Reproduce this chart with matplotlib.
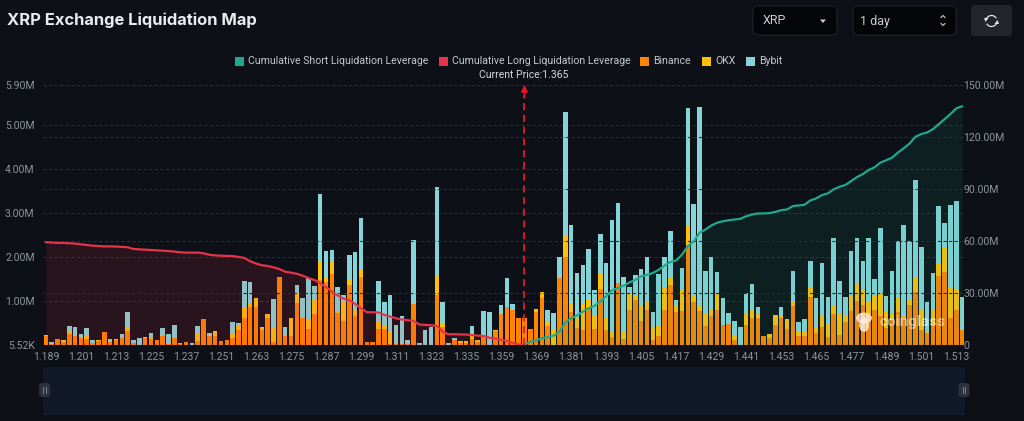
import numpy as np
import matplotlib
matplotlib.use("Agg")
import matplotlib.pyplot as plt
from matplotlib.patches import FancyBboxPatch, Rectangle, Ellipse, Arc

plt.rcParams['font.family'] = ['Roboto', 'DejaVu Sans']

# tick labels along the price axis, one every 6 bars
price_ticks = ["1.189", "1.201", "1.213", "1.225", "1.237", "1.251", "1.263", "1.275", "1.287",
               "1.299", "1.311", "1.323", "1.335", "1.359", "1.369", "1.381", "1.393", "1.405",
               "1.417", "1.429", "1.441", "1.453", "1.465", "1.477", "1.489", "1.501", "1.513"]

# liquidation per price bin, millions
binance = [.21, .03, .15, .08, .25, .20, .16, .15, .04, .10, .29, .08, .11, .16, .33, .04, 0, .16, .14, .11,
           .20, .02, .17, .02, .08, .01, .09, .59, .20, .20, .10, .11, .17, .34, .62, .87, .86, .34, .62, .08,
           1.55, .20, .21, .96, .61, .36, .71, 1.48, 1.43, 1.62, .74, .55, 1.37, .66, 1.55, .08, .08, .36, .36, .03,
           .03, .03, .03, .93, 0, 0, 0, 1.15, .42, 0, .11, .04, .05, .15, .08, .22, 0, .32, .70, .87,
           .81, .61, .61, .36, .76, 1.06, .43, 0, 1.52, 1.99, .75, .38, .34, .84, .36, 1.28, .34, .19, 1.40, .15,
           .81, 1.03, .54, .81, .11, .20, .81, 1.37, .75, .78, 2.28, .99, .78, .43, .66, .81, .46, .49, .13, 0,
           .46, .61, .61, .20, .17, .46, .61, .36, .90, .20, .20, 1.10, .28, .42, .19, .70, .23, .52, .78, 1.00,
           .91, .70, .80, .66, .40, .57, .75, .61, .91, 1.21, .34, .27, .46, 1.56, 1.65, .61, .81, .34]
okx = [.03, 0, 0, .05, .08, .02, .02, .06, .02, .02, 0, .01, .04, .02, .07, 0, 0, .02, .02, .02,
       0, 0, 0, .03, 0, 0, .16, 0, .02, .13, 0, 0, .08, .10, .22, .08, .20, .08, .08, .33,
       0, .02, .41, .20, .02, .21, .32, .42, .11, .27, .03, .43, .12, .14, .17, 0, 0, .17, .09, .30,
       0, 0, 0, 0, 0, 0, 0, .41, .06, 0, .03, .05, .04, .05, .03, .02, 0, .02, .03, 0,
       0, 0, 0, 0, .06, .15, .10, .34, 0, .50, .18, .23, .59, .20, .32, .33, .28, .11, 0, .17,
       .35, .10, .35, .18, .28, .25, .50, .17, .16, .47, .43, .14, .13, .30, .14, .38, 0, 0, .10, 0,
       .25, .19, .10, 0, .08, .23, .05, .24, .09, .11, .09, .21, .12, .24, .29, .20, .48, .14, .36, .38,
       .36, .30, .33, .50, .36, .14, .35, .08, .14, .33, .46, .05, .33, .30, .58, .72, .46, .02]
bybit = [0, .04, 0, 0, .11, .20, .08, .19, .06, 0, 0, .05, 0, .08, .35, .09, .17, 0, .12, 0,
         .18, .23, .30, 0, 0, .04, .18, 0, .06, 0, 0, 0, .28, .07, .62, .49, 0, 0, 0, .64,
         0, .20, 0, .20, .44, .95, .32, 1.53, .60, .27, .56, .16, .56, 1.31, 1.17, 0, 0, .92, .52, .81,
         .42, .64, .08, 1.46, .05, .35, .42, 2.03, .50, .04, .02, 0, 0, .24, .02, .53, .75, 0, .18, .66,
         .12, 0, 0, 0, 0, 0, .28, .38, .48, 2.79, 1.80, 1.03, .88, 1.15, .58, .91, 1.25, 2.55, 1.83, 1.22,
         .15, .46, .84, 1.02, .36, 1.16, .70, 1.05, .11, .51, 2.66, 2.07, 4.49, .96, 1.20, .46, .62, .23, .32, .42,
         .47, .58, .15, 0, 0, 0, .21, 0, .70, .21, .30, .61, .67, 1.21, .62, 1.53, .74, .43, 1.00, 1.05,
         .65, 1.42, .37, 1.50, .36, .97, 1.27, 2.03, 1.31, 2.20, 1.42, .65, .84, 1.29, .54, 1.84, 2.00, .74]

# cumulative leverage, millions (long runs up to the current price, short starts there)
long_cum = [59.3, 59.1, 58.9, 58.9, 58.7, 58.5, 58.1, 57.7, 57.3, 57.1, 56.9, 56.9, 56.8, 56.6, 56.4, 55.4, 55.2,
            55.0, 54.8, 54.6, 54.4, 54.2, 53.9, 53.5, 53.3, 53.3, 53.3, 52.9, 52.1, 51.7, 51.5, 51.4, 51.3, 50.8,
            50.2, 48.3, 47.0, 46.0, 45.6, 44.8, 43.8, 42.3, 41.7, 41.1, 40.0, 38.6, 37.5, 35.7, 33.4, 30.9, 28.6,
            26.8, 25.9, 23.7, 21.2, 18.9, 18.9, 18.7, 17.4, 16.4, 15.4, 14.7, 14.3, 13.9, 11.8, 11.6, 11.4, 11.0,
            7.7, 6.2, 6.2, 6.1, 6.0, 5.8, 5.4, 5.2, 4.2, 3.7, 3.1, 2.3, 1.2, .2, 0]
short_cum = [.3, 1.9, 2.7, 3.9, 4.6, 5.4, 7.7, 12.9, 15.4, 17.0, 19.3, 21.2, 22.6, 25.1, 28.0, 31.5, 32.8, 34.2,
             36.1, 37.6, 39.6, 40.5, 41.5, 43.4, 45.8, 47.9, 48.8, 52.1, 57.0, 59.8, 64.7, 66.6, 68.9, 70.5, 71.4,
             72.0, 72.4, 72.8, 74.3, 75.3, 75.9, 75.9, 76.1, 76.8, 77.8, 78.2, 80.1, 80.5, 80.9, 83.4, 84.6, 86.5,
             87.5, 89.8, 91.3, 92.3, 94.6, 96.9, 98.6, 101.0, 102.5, 105.2, 106.6, 108.1, 111.0, 113.5, 116.2,
             120.1, 121.7, 122.6, 124.5, 127.4, 130.3, 133.2, 136.5, 137.7]

left_ticks = [0.00552, 1, 2, 3, 4, 5, 5.9]
left_labels = ["5.52K", "1.00M", "2.00M", "3.00M", "4.00M", "5.00M", "5.90M"]
right_ticks = [0, 30, 60, 90, 120, 150]
right_labels = ["0", "30.00M", "60.00M", "90.00M", "120.00M", "150.00M"]

BG = "#0d1017"
TXT = "#8f939a"
TEAL = "#1fa88c"
RED = "#e6334a"
ORANGE = "#ff8400"
YELLOW = "#ffc107"
CYAN = "#85d5d8"

W, H = 1024, 421
fig = plt.figure(figsize=(W / 100, H / 100), dpi=100, facecolor=BG)

ax = fig.add_axes([43 / W, 1 - 345 / H, 922 / W, 260 / H], facecolor="none", zorder=2)
ax2 = ax.twinx()
ax2.set_facecolor("none")

binance = np.array(binance)
okx = np.array(okx)
bybit = np.array(bybit)
x = np.arange(len(binance))

ax.bar(x, binance, width=0.78, color=ORANGE, zorder=3)
ax.bar(x, okx, width=0.78, bottom=binance, color=YELLOW, zorder=3)
ax.bar(x, bybit, width=0.78, bottom=binance + okx, color=CYAN, zorder=3)

ax.set_xlim(-0.5, len(x) - 0.5)
ax.set_ylim(left_ticks[0], left_ticks[-1])
ax2.set_ylim(right_ticks[0], right_ticks[-1])

ax.set_xticks(np.arange(len(price_ticks)) * 6)
ax.set_xticklabels(price_ticks)
ax.set_yticks(left_ticks)
ax.set_yticklabels(left_labels)
ax2.set_yticks(right_ticks)
ax2.set_yticklabels(right_labels)

ax.grid(axis="y", color="#2a2d33", linestyle=(0, (3, 2)), linewidth=0.8, zorder=0)
ax2.grid(axis="y", color="#2a2d33", linestyle=(0, (3, 2)), linewidth=0.8, zorder=0)
ax.set_axisbelow(True)

for a in (ax, ax2):
    for s in a.spines.values():
        s.set_visible(False)
    a.tick_params(length=0, colors=TXT, labelsize=7.6)
ax.tick_params(axis="x", pad=5)
ax.tick_params(axis="y", pad=6)
ax2.tick_params(axis="y", pad=-1)

# cumulative lines on the right scale
long_x = x[:len(long_cum)]
short_x = x[len(long_cum) - 1:]
ax2.fill_between(long_x, long_cum, color=RED, alpha=0.13, linewidth=0, zorder=1)
ax2.fill_between(short_x, short_cum, color=TEAL, alpha=0.10, linewidth=0, zorder=1)
ax2.plot(long_x, long_cum, color=RED, linewidth=1.6, zorder=4)
ax2.plot(short_x, short_cum, color=TEAL, linewidth=1.6, zorder=4)

# current price marker
cur = long_x[-1]
ax2.plot([cur, cur], [right_ticks[0], right_ticks[-1] - 6], color="#e8142e", linewidth=1.3,
         linestyle=(0, (4, 2.5)), zorder=5)
ax2.annotate("", xy=(cur, right_ticks[-1]), xytext=(cur, right_ticks[-1] - 7),
             arrowprops=dict(arrowstyle="-|>", color="#e8142e", lw=1, mutation_scale=10, shrinkA=0, shrinkB=0),
             zorder=5)

# everything else is page furniture, placed in pixels
ov = fig.add_axes([0, 0, 1, 1], facecolor="none", zorder=5)
ov.set_xlim(0, W)
ov.set_ylim(H, 0)
ov.axis("off")

ov.text(7, 20, "XRP Exchange Liquidation Map", color="#e9ebee", fontsize=11.9, fontweight="bold",
        family=["Inter", "DejaVu Sans"], va="center", ha="left")

ov.add_patch(FancyBboxPatch((753, 6), 84, 29, boxstyle="round,pad=0,rounding_size=5",
                            fc="#040508", ec="#1f2229", lw=0.8))
ov.add_patch(FancyBboxPatch((853, 6), 103, 29, boxstyle="round,pad=0,rounding_size=5",
                            fc="#040508", ec="#1f2229", lw=0.8))
ov.add_patch(FancyBboxPatch((971, 5), 41, 31, boxstyle="round,pad=0,rounding_size=4",
                            fc="#22252d", ec="none"))
ov.text(763, 21, "XRP", color="#c9ccd1", fontsize=9, va="center")
ov.text(860, 21, "1 day", color="#c9ccd1", fontsize=9, va="center")
ov.fill([820, 826, 823], [19.5, 19.5, 23], color="#c9ccd1", lw=0)
ov.plot([941, 943, 945], [17.5, 15.5, 17.5], color="#c9ccd1", lw=0.8)
ov.plot([941, 943, 945], [23.5, 25.5, 23.5], color="#c9ccd1", lw=0.8)
# refresh icon
ov.add_patch(Arc((991.5, 21), 11, 11, theta1=190, theta2=330, color="#e3e5e8", lw=0.9))
ov.add_patch(Arc((991.5, 21), 11, 11, theta1=10, theta2=150, color="#e3e5e8", lw=0.9))
ov.fill([984, 988.5, 985.5], [18, 18, 22], color="#e3e5e8", lw=0)
ov.fill([994.5, 999, 997.5], [24, 24, 20], color="#e3e5e8", lw=0)

# legend
legend_items = [("Cumulative Short Liquidation Leverage", TEAL, 235, 248),
                ("Cumulative Long Liquidation Leverage", RED, 439, 452),
                ("Binance", ORANGE, 640, 653),
                ("OKX", YELLOW, 702, 715),
                ("Bybit", CYAN, 746, 759)]
for label, col, bx, tx in legend_items:
    ov.add_patch(Rectangle((bx, 57), 8.5, 8.5, fc=col, ec="none"))
    ov.text(tx, 61, label, color="#c4c7cc", fontsize=7.6, va="center", ha="left")
ov.text(524, 74.5, "Current Price:1.365", color="#d6d8dc", fontsize=7.5, va="center", ha="center")

# zoom slider below the chart
ov.add_patch(Rectangle((43, 367), 922, 48, fc="#10182a", ec="none"))
for hx in (44.5, 964):
    ov.add_patch(FancyBboxPatch((hx - 5.5, 383), 11, 14, boxstyle="round,pad=0,rounding_size=3.5",
                                fc="#2d3140", ec="none"))
    ov.plot([hx - 1.2, hx - 1.2], [387, 393], color="#7d818c", lw=0.7)
    ov.plot([hx + 1.2, hx + 1.2], [387, 393], color="#7d818c", lw=0.7)

# watermark
ov.add_patch(Ellipse((864, 318), 16, 11, fc="#fff1e6", ec="none", alpha=0.8))
ov.add_patch(Ellipse((864, 325), 10, 14, fc="#fff1e6", ec="none", alpha=0.8))
ov.text(880, 322, "coinglass", color="#ffffff", alpha=0.5, fontsize=11, fontweight="bold",
        va="center", ha="left")

fig.savefig("out.png", dpi=100, facecolor=BG)
